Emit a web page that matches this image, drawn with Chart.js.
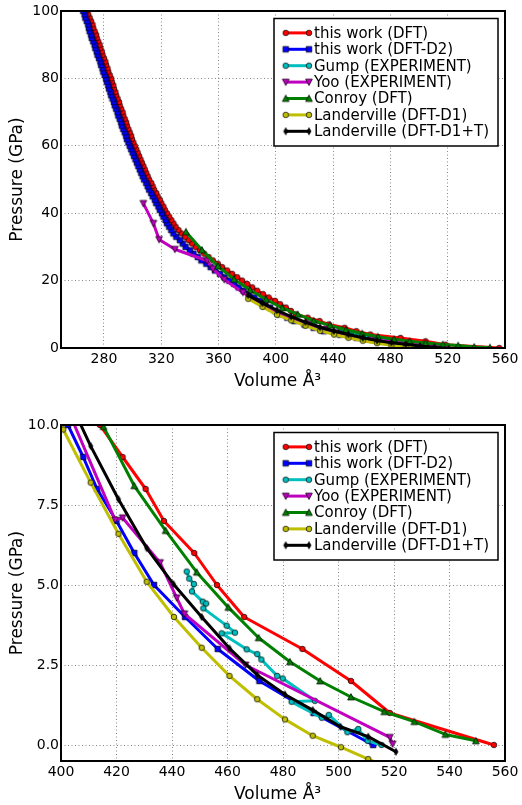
<!DOCTYPE html>
<html><head><meta charset="utf-8">
<script src="https://cdn.jsdelivr.net/npm/chart.js@4.4.0/dist/chart.umd.min.js"></script>
<style>
html,body{margin:0;padding:0;background:#fff;}
#wrap{position:relative;width:522px;height:805px;overflow:hidden;}
canvas{position:absolute;left:0;}
</style></head><body>
<div id="wrap">
<canvas id="top" width="522" height="392" style="top:0px"></canvas>
<canvas id="bot" width="522" height="413" style="top:392px"></canvas>
</div>
<script>
// ---------------- data (Volume in Å^3, Pressure in GPa) ----------------
const seriesLabels = ['this work (DFT)','this work (DFT-D2)','Gump (EXPERIMENT)','Yoo (EXPERIMENT)','Conroy (DFT)','Landerville (DFT-D1)','Landerville (DFT-D1+T)'];

const dftP = [0,1,2,3,4,5,6,7,8,9,10,11,12,13,14,15,16,17,18,19,20,21,22,23,24,25,26,27,28,29,30,31,32,33,34,35,36,37,38,39,40,41,42,43,44,45,46,47,48,49,50,51,52,53,54,55,56,57,58,59,60,61,62,63,64,65,66,67,68,69,70,71,72,73,74,75,76,77,78,79,80,81,82,83,84,85,86,87,88,89,90,91,92,93,94,95,96,97,98,99,100];
const dftV = [556,518.5,504.5,487,466,456.2,448,437.1,430.5,422.2,414,410.5,407,403,399.5,395,391,387,383.5,380,376.5,373,369.5,366,362.5,359.5,356,353,350,347,344,341.5,339,336.5,334,332,330,328.5,327,325.5,324,322.5,321.5,320,319,317.5,316.5,315,314,313,311.5,310.5,309.5,308.5,307.5,306.5,305.5,304.5,303.5,302.5,301.5,300.5,299.5,299,298,297,296,295.5,294.5,293.5,293,292,291,290.5,289.5,288.5,288,287,286.5,285.5,285,284,283,282.5,281.5,281,280,279,278.5,277.5,277,276,275,274.5,273.5,272.5,272,271,270,269,268];

const d2P = [0,1,2,3,4,5,6,7,8,9,10,11,12,13,14,15,16,17,18,19,20,21,22,23,24,25,26,27,28,29,30,31,32,33,34,35,36,37,38,39,40,41,42,43,44,45,46,47,48,49,50,51,52,53,54,55,56,57,58,59,60,61,62,63,64,65,66,67,68,69,70,71,72,73,74,75,76,77,78,79,80,81,82,83,84,85,86,87,88,89,90,91,92,93,94,95,96,97,98,99,100];
const d2V = [512.5,491,471.5,456.5,444.7,433.5,426.4,420,413,408,402.5,399.5,396,392.5,389,385,381,377.5,374,371,367.5,364,361,357.5,354.5,351.5,348,345.5,342.5,340,337,335,333,330.5,328.5,327,325.5,324,323,321.5,320.5,319,318,316.5,315.5,314,313,311.5,310.5,309.5,308,307,306,305,304,303,302,301,300,299,298,297,296,295.5,294.5,293.5,292.5,292,291,290,289.5,288.5,287.5,287,286,285,284.5,283.5,283,282,281.5,280.5,279.5,279,278,277.5,276.5,275.5,275,274,273.5,272.5,271.5,271,270,269.5,269,268,267,266.5,265.5];

const gumpV = [445.3,446.2,447.9,447.2,451.1,452.3,451.3,459.7,462.7,457.9,466.9,470.7,472.2,477.9,479.9,491.5,483.1,494,496.5,503.2,507.1,510.5,515.5];
const gumpP = [5.42,5.2,5.03,4.8,4.48,4.42,4.27,3.73,3.51,3.49,2.99,2.84,2.67,2.16,2.08,1.38,1.35,0.85,0.94,0.4,0.5,0.13,0.0];

const yooV = [307.5,314.5,318.5,329.5,352,356,364,377,392,419.5,422.2,435.7,441.7,444.5,466.5,518.5,519.5];
const yooP = [42.9,37,32.2,29.3,25.9,23.5,20.3,16.5,12.6,7.03,7.1,5.7,4.6,4.1,2.5,0.24,0.03];

const conroyV = [337.2,348.4,359.6,370.8,382,393.2,404.4,415.3,426.4,437.7,448.9,460.3,471.2,482.5,493.4,504.5,516.5,527.3,538.5,549.5];
const conroyP = [34.5,29.1,24.3,20.4,17.2,14.4,11.9,9.95,8.1,6.7,5.4,4.3,3.35,2.6,2.0,1.5,1.04,0.73,0.33,0.13];

const landD1V = [380.7,390.7,400.8,410.7,420.7,430.9,440.7,450.7,460.7,470.7,480.7,490.7,500.9,510.7,520.7];
const landD1P = [14.6,12.2,9.86,8.2,6.6,5.1,4.0,3.04,2.16,1.43,0.8,0.29,-0.07,-0.44,-0.8];

const landTV = [380.7,390.7,400.7,410.7,420.7,430.9,440.5,450.7,460.7,470.7,480.7,490.7,500.7,510.7,520.7];
const landTP = [15.7,13.3,11.2,9.34,7.68,6.15,5.03,4.0,3.02,2.19,1.58,1.09,0.57,0.26,-0.21];

// tick values / labels
const topXTicks = [280,320,360,400,440,480,520,560];
const topYTicks = [0,20,40,60,80,100];
const topYLabels = ['0','20','40','60','80','100'];
const botXTicks = [400,420,440,460,480,500,520,540,560];
const botYTicks = [0,2.5,5,7.5,10];
const botYLabels = ['0.0','2.5','5.0','7.5','10.0'];

// ---------------- styling ----------------
const FONT = 'DejaVu Sans';
const colors = ['#ff0000','#0000ff','#00bfbf','#bf00bf','#008000','#bfbf00','#000000'];
const shapes = ['o','s','o','v','^','o','d'];
const seriesV = [dftV,d2V,gumpV,yooV,conroyV,landD1V,landTV];
const seriesP = [dftP,d2P,gumpP,yooP,conroyP,landD1P,landTP];

function markerCanvas(shape, color) {
  const c = document.createElement('canvas'); c.width = 14; c.height = 14;
  const g = c.getContext('2d'); g.translate(7,7);
  g.beginPath();
  if (shape === 'o') g.arc(0,0,2.8,0,2*Math.PI);
  else if (shape === 's') g.rect(-2.8,-2.8,5.6,5.6);
  else if (shape === '^') { g.moveTo(0,-3.4); g.lineTo(3.4,3.0); g.lineTo(-3.4,3.0); g.closePath(); }
  else if (shape === 'v') { g.moveTo(0,3.4); g.lineTo(3.4,-3.0); g.lineTo(-3.4,-3.0); g.closePath(); }
  else if (shape === 'd') { g.moveTo(0,-3.5); g.lineTo(2.1,0); g.lineTo(0,3.5); g.lineTo(-2.1,0); g.closePath(); }
  g.fillStyle = color; g.fill();
  g.lineWidth = 0.7; g.strokeStyle = '#000'; g.stroke();
  return c;
}
const markers = colors.map((c,i)=>markerCanvas(shapes[i], c));

function buildDatasets() {
  return seriesLabels.map((lab,i)=>({
    label: lab,
    data: seriesV[i].map((v,k)=>({x:v, y:seriesP[i][k]})),
    showLine: true,
    borderColor: colors[i],
    backgroundColor: colors[i],
    borderWidth: 3,
    borderJoinStyle: 'round',
    pointStyle: markers[i],
    pointRadius: 3.5,
    pointHoverRadius: 3.5,
    tension: 0,
    fill: false,
    clip: 0,
    order: seriesLabels.length - i
  }));
}

const framePlugin = {
  id: 'frame',
  afterDatasetsDraw(chart) {
    const a = chart.chartArea, ctx = chart.ctx;
    ctx.save();
    ctx.lineWidth = 2; ctx.strokeStyle = '#000';
    ctx.strokeRect(a.left, a.top, a.right - a.left, a.bottom - a.top);
    ctx.restore();
  }
};

const legendPlugin = {
  id: 'mplLegend',
  afterDraw(chart) {
    const ctx = chart.ctx, a = chart.chartArea;
    const w = 224, h = 127.5;
    const x0 = a.right - 7 - w, y0 = a.top + 7.5;
    ctx.save();
    ctx.fillStyle = '#fff'; ctx.fillRect(x0, y0, w, h);
    ctx.lineWidth = 1.5; ctx.strokeStyle = '#000'; ctx.strokeRect(x0, y0, w, h);
    ctx.font = '15px "' + FONT + '"'; ctx.textBaseline = 'middle'; ctx.textAlign = 'left';
    seriesLabels.forEach((lab, i) => {
      const y = y0 + 14.4 + i * 16.4;
      const xa = x0 + 11.7, xb = x0 + 35;
      ctx.strokeStyle = colors[i]; ctx.lineWidth = 3;
      ctx.beginPath(); ctx.moveTo(xa, y); ctx.lineTo(xb, y); ctx.stroke();
      ctx.drawImage(markers[i], xa - 7, y - 7);
      ctx.drawImage(markers[i], xb - 7, y - 7);
      ctx.fillStyle = '#000';
      ctx.fillText(lab, x0 + 40, y + 1);
    });
    ctx.restore();
  }
};

function makeChart(id, cfg) {
  return new Chart(document.getElementById(id), {
    type: 'scatter',
    data: { datasets: buildDatasets() },
    options: {
      responsive: false, animation: false, devicePixelRatio: 1,
      events: [],
      layout: { padding: { left: 0, right: 17, top: cfg.padTop, bottom: 0 } },
      plugins: { legend: { display: false }, tooltip: { enabled: false } },
      scales: {
        x: {
          type: 'linear', min: cfg.xmin, max: cfg.xmax,
          afterBuildTicks: s => { s.ticks = cfg.xTicks.map(v => ({ value: v })); },
          afterFit: s => { s.height = 44; },
          ticks: { font: { family: FONT, size: 14 }, color: '#000', padding: 3, maxRotation: 0, autoSkip: false,
                   callback: (v) => String(v) },
          grid: { color: 'rgba(0,0,0,0.6)', lineWidth: 0.8, drawTicks: false },
          border: { display: false, dash: [1, 2.5] },
          title: { display: true, text: 'Volume Å³  ', color: '#000', font: { family: FONT, size: 17 }, padding: { top: 0, bottom: 0 } }
        },
        y: {
          type: 'linear', min: cfg.ymin, max: cfg.ymax,
          afterBuildTicks: s => { s.ticks = cfg.yTicks.map(v => ({ value: v })); },
          afterFit: s => { s.width = 61; },
          ticks: { font: { family: FONT, size: 14 }, color: '#000', padding: 2, autoSkip: false,
                   callback: (v, i) => cfg.yLabels[i] },
          grid: { color: 'rgba(0,0,0,0.6)', lineWidth: 0.8, drawTicks: false },
          border: { display: false, dash: [1, 2.5] },
          title: { display: true, text: 'Pressure (GPa)', color: '#000', font: { family: FONT, size: 17 }, padding: { top: 7, bottom: 0 } }
        }
      }
    },
    plugins: [framePlugin, legendPlugin]
  });
}

makeChart('top', { padTop: 11, xmin: 250, xmax: 560, ymin: 0, ymax: 100, xTicks: topXTicks, yTicks: topYTicks, yLabels: topYLabels });
makeChart('bot', { padTop: 33, xmin: 400, xmax: 560, ymin: -0.5, ymax: 10, xTicks: botXTicks, yTicks: botYTicks, yLabels: botYLabels });
</script>
</body></html>
